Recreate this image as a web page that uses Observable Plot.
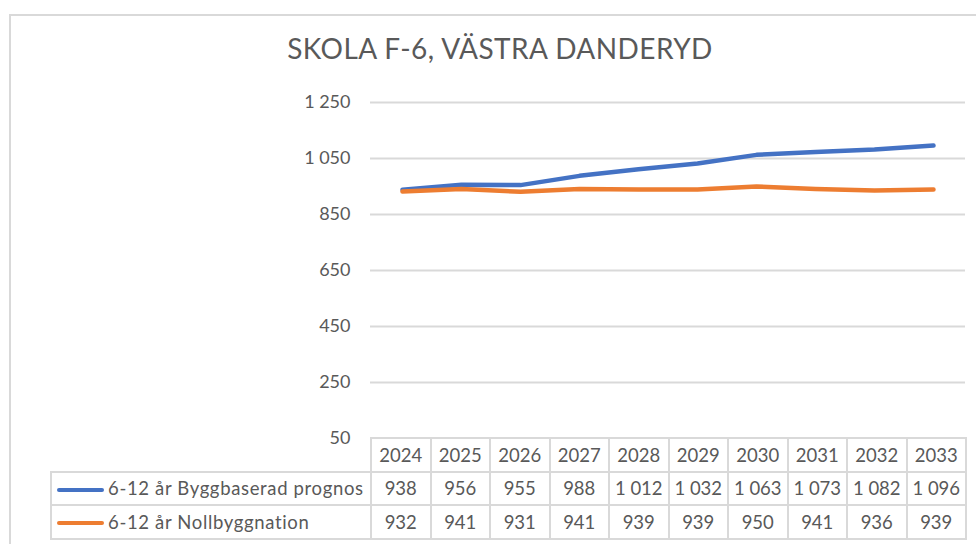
<!DOCTYPE html>
<html>
<head>
<meta charset="utf-8">
<script src="https://cdn.jsdelivr.net/npm/d3@7"></script>
<script src="https://cdn.jsdelivr.net/npm/@observablehq/plot@0.6"></script>
<style>
  html, body { margin: 0; padding: 0; background: #fff; overflow: hidden; width: 976px; height: 544px; }
  body { position: relative; font-family: Lato, "Open Sans", sans-serif; color: #595959; }
  #frame { position: absolute; left: 9px; top: 14px; width: 1000px; height: 600px; border: 2px solid #d9d9d9; box-sizing: border-box; }
  #title { position: absolute; left: 0; width: 1000px; top: 32px; text-align: center; font-size: 28px; letter-spacing: 0.45px; line-height: 1.2; color: #595959; white-space: nowrap; }
  #chart { position: absolute; left: 0; top: 80px; }
  #tbl { position: absolute; left: 50px; top: 437px; border-collapse: collapse; font-size: 18.5px; color: #595959; table-layout: fixed; }
  #tbl td { border: 2px solid #d9d9d9; height: 31.5px; padding: 0; text-align: center; white-space: nowrap; }
  #tbl td.empty { border: none; border-right: 2px solid #d9d9d9; }
  #tbl td.lab { text-align: left; padding-left: 5px; letter-spacing: 0.65px; }
  .key { display: inline-block; width: 47px; height: 4px; border-radius: 2px; vertical-align: middle; margin-right: 4px; position: relative; top: -1px; }
</style>
</head>
<body>
<div id="frame"></div>
<div id="title"></div>
<div id="chart"></div>
<table id="tbl"></table>
<script>
const titleText = "SKOLA F-6, VÄSTRA DANDERYD";
const years = [2024, 2025, 2026, 2027, 2028, 2029, 2030, 2031, 2032, 2033];
const seriesNames = ["6-12 år Byggbaserad prognos", "6-12 år Nollbyggnation"];
const bygg = [938, 956, 955, 988, 1012, 1032, 1063, 1073, 1082, 1096];
const noll = [932, 941, 931, 941, 939, 939, 950, 941, 936, 939];
const seriesColors = ["#4472C4", "#ED7D31"];
const yTicks = [50, 250, 450, 650, 850, 1050, 1250];

const locale = d3.formatLocale({decimal: ",", thousands: "\u00a0", grouping: [3], currency: ["", " kr"]});
const fmt = locale.format(",d");

document.getElementById("title").textContent = titleText;

const seriesValues = [bygg, noll];
const data = [];
seriesNames.forEach((s, i) => years.forEach((y, j) => data.push({series: s, year: y, value: seriesValues[i][j]})));

const plot = Plot.plot({
  width: 976,
  height: 370,
  marginLeft: 370,
  marginRight: 11,
  marginTop: 22,
  marginBottom: 12,
  style: {fontFamily: "Lato, 'Open Sans', sans-serif", fontSize: "18px", color: "#595959", background: "transparent", overflow: "visible"},
  x: {type: "point", domain: years, padding: 0.5, axis: null},
  y: {domain: [50, 1250], ticks: yTicks, tickFormat: fmt, tickSize: 0, tickPadding: 20, label: null},
  color: {domain: seriesNames, range: seriesColors},
  marks: [
    Plot.ruleY(yTicks.filter(d => d > 50), {stroke: "#d9d9d9", strokeWidth: 2}),
    Plot.line(data, {x: "year", y: "value", z: "series", stroke: "series", strokeWidth: 4.5, strokeLinecap: "round", strokeLinejoin: "round"})
  ]
});
plot.querySelectorAll("text").forEach(t => t.setAttribute("fill", "#595959"));
document.getElementById("chart").appendChild(plot);

// data table
const tbl = document.getElementById("tbl");
const colgroup = document.createElement("colgroup");
const c0 = document.createElement("col"); c0.style.width = "320px"; colgroup.appendChild(c0);
years.forEach(() => { const c = document.createElement("col"); c.style.width = "59.5px"; colgroup.appendChild(c); });
tbl.appendChild(colgroup);
const head = document.createElement("tr");
const e = document.createElement("td"); e.className = "empty"; head.appendChild(e);
years.forEach(y => { const td = document.createElement("td"); td.textContent = y; head.appendChild(td); });
tbl.appendChild(head);
seriesNames.forEach((s, i) => {
  const tr = document.createElement("tr");
  const lab = document.createElement("td"); lab.className = "lab";
  const key = document.createElement("span"); key.className = "key"; key.style.background = seriesColors[i];
  lab.appendChild(key); lab.appendChild(document.createTextNode(s));
  tr.appendChild(lab);
  seriesValues[i].forEach(v => { const td = document.createElement("td"); td.textContent = fmt(v); tr.appendChild(td); });
  tbl.appendChild(tr);
});
</script>
</body>
</html>
